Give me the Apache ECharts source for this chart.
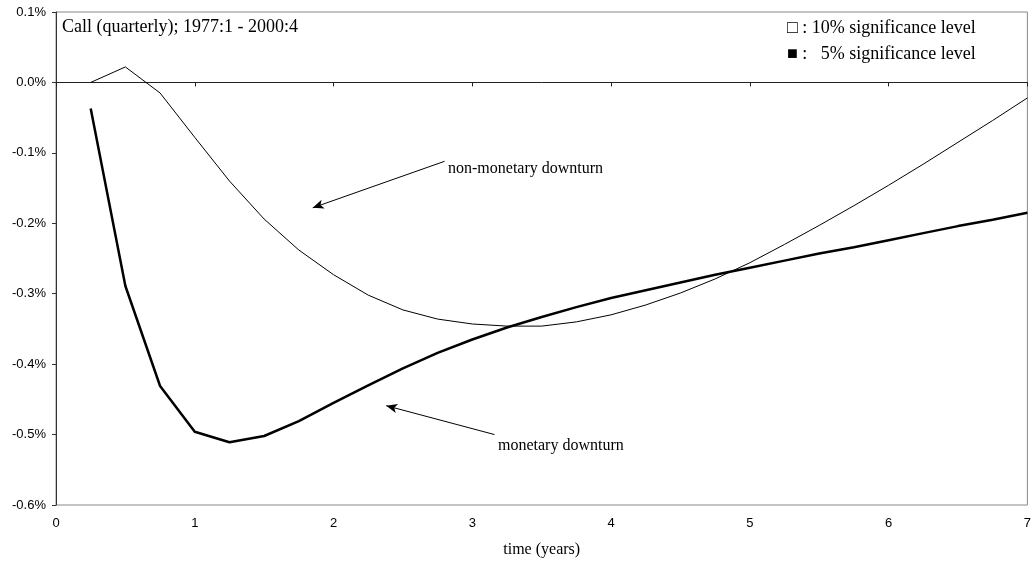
<!DOCTYPE html>
<html><head><meta charset="utf-8">
<script src="https://cdn.jsdelivr.net/npm/echarts@6/dist/echarts.min.js"></script>
<style>html,body{margin:0;padding:0;background:#fff}#c{width:1034px;height:563px}</style>
</head><body><div id="c"></div>
<script>
const quarters = [0.25,0.5,0.75,1,1.25,1.5,1.75,2,2.25,2.5,2.75,3,3.25,3.5,3.75,4,4.25,4.5,4.75,5,5.25,5.5,5.75,6,6.25,6.5,6.75,7];
const nonMonetary = [0.000,0.022,-0.015,-0.078,-0.140,-0.194,-0.238,-0.273,-0.302,-0.323,-0.336,-0.343,-0.346,-0.346,-0.340,-0.330,-0.316,-0.299,-0.279,-0.256,-0.230,-0.203,-0.175,-0.146,-0.116,-0.085,-0.054,-0.022];
const monetary = [-0.037,-0.289,-0.431,-0.496,-0.511,-0.502,-0.481,-0.455,-0.430,-0.406,-0.384,-0.365,-0.348,-0.333,-0.319,-0.306,-0.295,-0.284,-0.273,-0.263,-0.253,-0.243,-0.234,-0.224,-0.214,-0.204,-0.195,-0.185];
const yTicks = {min:-0.6, max:0.1, interval:0.1};
const xTicks = {min:0, max:7, interval:1};
const arrowNonMon = [[2.80,-0.112],[1.85,-0.178]];
const arrowMon = [[3.16,-0.500],[2.38,-0.459]];

const chart = echarts.init(document.getElementById('c'), null, {renderer:'canvas'});
const pair = (xs, ys) => xs.map((x,i)=>[x, ys[i]]);
const serif = "'Liberation Serif','Times New Roman','DejaVu Serif',serif";
const sans = "'Liberation Sans',Arial,sans-serif";
chart.setOption({
  animation:false,
  grid:{left:56,right:4,top:12,bottom:58,show:true,borderColor:'#888',borderWidth:1},
  xAxis:[{
    type:'value', min:xTicks.min, max:xTicks.max, interval:xTicks.interval, position:'bottom',
    axisLine:{onZero:true,lineStyle:{color:'#222',width:1}},
    axisTick:{show:true,inside:false,length:4,lineStyle:{color:'#222'}},
    axisLabel:{show:false}, splitLine:{show:false}
  },{
    type:'value', min:xTicks.min, max:xTicks.max, interval:xTicks.interval, position:'bottom',
    axisLine:{show:false,onZero:false}, axisTick:{show:false},
    axisLabel:{show:true,margin:12,fontFamily:sans,fontSize:13,color:'#000'},
    splitLine:{show:false},
    name:'time (years)', nameLocation:'middle', nameGap:37,
    nameTextStyle:{fontFamily:serif,fontSize:16,color:'#000'}
  }],
  yAxis:{
    type:'value', min:yTicks.min, max:yTicks.max, interval:yTicks.interval,
    axisLine:{show:true,onZero:false,lineStyle:{color:'#333',width:1}},
    axisTick:{show:true,inside:false,length:4,lineStyle:{color:'#333'}},
    axisLabel:{margin:10,fontFamily:sans,fontSize:13,color:'#000',
      formatter:v=>(Math.abs(v)<1e-9?'0.0':v.toFixed(1))+'%'},
    splitLine:{show:false}
  },
  series:[
    {type:'line', name:'non-monetary downturn', data:pair(quarters,nonMonetary), showSymbol:false, symbol:'none',
     lineStyle:{color:'#000',width:1}, xAxisIndex:0,
     markLine:{silent:true, symbol:['none','arrow'], symbolSize:[7,11],
       lineStyle:{color:'#000',width:1,type:'solid'}, label:{show:false},
       data:[[{coord:arrowNonMon[0]},{coord:arrowNonMon[1]}]]}},
    {type:'line', name:'monetary downturn', data:pair(quarters,monetary), showSymbol:false, symbol:'none',
     lineStyle:{color:'#000',width:2.5}, xAxisIndex:0,
     markLine:{silent:true, symbol:['none','arrow'], symbolSize:[7,11],
       lineStyle:{color:'#000',width:1,type:'solid'}, label:{show:false},
       data:[[{coord:arrowMon[0]},{coord:arrowMon[1]}]]}}
  ],
  graphic:[
    {type:'text', left:62, top:18, style:{text:'Call (quarterly); 1977:1 - 2000:4', font:'18px '+serif, fill:'#000'}},
    {type:'text', left:787, top:19, style:{text:'\u25A1 : 10% significance level', font:'18px '+serif, fill:'#000'}},
    {type:'text', left:787, top:45, style:{text:'\u25A0 :   5% significance level', font:'18px '+serif, fill:'#000', whiteSpace:'pre'}},
    {type:'text', left:448, top:161, style:{text:'non-monetary downturn', font:'16px '+serif, fill:'#000'}},
    {type:'text', left:498, top:438, style:{text:'monetary downturn', font:'16px '+serif, fill:'#000'}}
  ]
});
</script></body></html>
